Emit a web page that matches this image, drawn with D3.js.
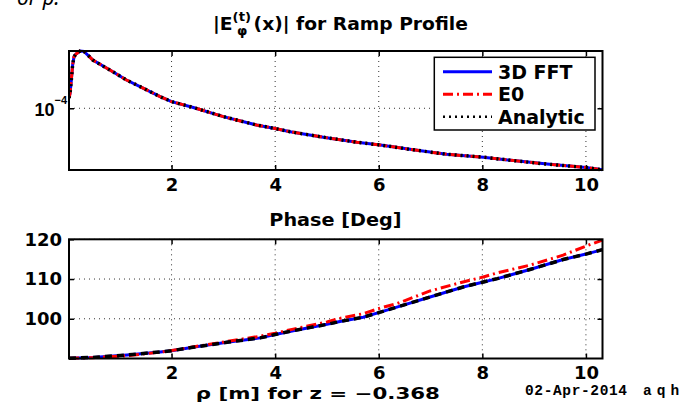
<!DOCTYPE html>
<html lang='en'>
<head>
  <meta charset='UTF-8'>
  <title>Ramp Profile</title>
  <style>
    body { margin: 0; background: #fff; }
    svg { display: block; font-family: 'DejaVu Sans', sans-serif; font-weight: bold; }
  </style>
</head>
<body>
  <script src='https://cdn.jsdelivr.net/npm/d3@7/dist/d3.min.js'></script>
  <script>
// canvas
const width = 681;
const height = 402;

// --- data ---
// top panel: |E_phi| vs rho
const magRho = [0.02, 0.04, 0.06, 0.09, 0.117, 0.155, 0.233, 0.31, 0.48, 0.81, 1.13, 1.46, 1.78, 2.0,
                2.42, 3.0, 3.64, 3.97, 4.29, 4.93, 5.58, 6.03, 6.67, 7.31, 8.02, 8.6, 9.25, 10.0, 10.32];
const magFFT = [1.15e-4, 1.22e-4, 1.409e-4, 1.798e-4, 2.012e-4, 2.086e-4, 2.173e-4, 2.163e-4, 1.923e-4,
                1.68e-4, 1.467e-4, 1.311e-4, 1.17e-4, 1.094e-4, 1.011e-4, 8.93e-5, 7.97e-5, 7.63e-5,
                7.28e-5, 6.75e-5, 6.31e-5, 6.08e-5, 5.69e-5, 5.36e-5, 5.15e-5, 4.92e-5, 4.69e-5, 4.48e-5, 4.34e-5];
const magE0 = magFFT.slice();
const magAnalytic = magFFT.slice();

// bottom panel: phase [deg] vs rho
const phRho = [0.02, 0.48, 1.14, 1.78, 2.0, 2.41, 3.07, 3.71, 4.0, 4.35, 5.0, 5.25, 5.70, 6.03, 6.35,
               6.99, 7.63, 8.02, 8.29, 8.92, 9.56, 10.0, 10.32];
const phFFT = [90.05, 90.28, 90.89, 91.65, 91.97, 92.81, 94.08, 95.19, 96.03, 97.0, 98.6, 99.3, 100.4,
               101.67, 102.94, 105.47, 108.0, 109.27, 110.1, 112.4, 114.9, 116.28, 117.4];
const phE0 = [90.05, 90.2, 90.7, 91.6, 92.0, 92.9, 94.3, 95.6, 96.36, 97.4, 99.2, 100.1, 101.27,
              102.7, 103.8, 107.0, 109.27, 110.53, 111.55, 113.5, 116.0, 118.3, 119.8];
const phAnalytic = phFFT.slice();

const xTicks = [2, 4, 6, 8, 10];
const magTicks = [1e-4];
const phTicks = [100, 110, 120];
const legendNames = ['3D FFT', 'E0', 'Analytic'];

// series styles
const styles = [
  { color: '#0000ff', dash: null, w: 3 },
  { color: '#ff0000', dash: '10,4,2,4', w: 3 },
  { color: '#000000', dash: '2,4', w: 2.5 }
];

const svg = d3.select('body').append('svg')
    .attr('width', width)
    .attr('height', height);

// squeeze/stretch a text horizontally so it spans [x0, x1]
function fitText(parent, x0, x1, y, size, build) {
  const g = parent.append('g');
  const t = g.append('text').attr('x', 0).attr('y', 0).style('font-size', size + 'px');
  build(t);
  const w = t.node().getBBox().width;
  g.attr('transform', 'translate(' + x0 + ',' + y + ') scale(' + ((x1 - x0) / w) + ',1)');
  return t;
}

// cropped caption text at top-left
svg.append('text')
    .attr('x', 17).attr('y', 5)
    .style('font-family', "'Noto Sans', sans-serif")
    .style('font-weight', 'normal')
    .style('font-style', 'italic')
    .style('font-size', '21px')
    .text('or ρ.');

const left = 69, right = 602.5;
const x = d3.scaleLinear().domain([0.02, 10.32]).range([left, right]);

function panel(y0, y1, y, yTicks, series, fmt, blackDash) {
  const g = svg.append('g');

  // grid
  g.selectAll('.vg').data(xTicks).enter().append('line')
      .attr('x1', d => x(d)).attr('x2', d => x(d))
      .attr('y1', y0).attr('y2', y1)
      .attr('stroke', '#333').attr('stroke-width', 1).attr('stroke-dasharray', '1,4');
  g.selectAll('.hg').data(yTicks).enter().append('line')
      .attr('x1', left).attr('x2', right)
      .attr('y1', d => y(d)).attr('y2', d => y(d))
      .attr('stroke', '#333').attr('stroke-width', 1).attr('stroke-dasharray', '1,4');

  // lines
  const clipId = 'clip' + Math.round(y0);
  svg.append('clipPath').attr('id', clipId).append('rect')
      .attr('x', left).attr('y', y0 - 2).attr('width', right - left).attr('height', y1 - y0 + 4);
  series.forEach((s, i) => {
    const line = d3.line().x(d => x(d[0])).y(d => y(d[1]));
    g.append('path')
        .attr('clip-path', 'url(#' + clipId + ')')
        .attr('d', line(s.xs.map((v, k) => [v, s.ys[k]])))
        .attr('fill', 'none')
        .attr('stroke', styles[i].color)
        .attr('stroke-width', i === 2 ? 3.5 : styles[i].w)
        .attr('stroke-dasharray', i === 2 ? blackDash : styles[i].dash);
  });

  // axes
  const ax = [
    g.append('g').attr('transform', 'translate(0,' + y1 + ')')
        .call(d3.axisBottom(x).tickValues(xTicks).tickSizeInner(-5).tickSizeOuter(0).tickPadding(8)),
    g.append('g').attr('transform', 'translate(0,' + y0 + ')')
        .call(d3.axisTop(x).tickValues(xTicks).tickSizeInner(-5).tickSizeOuter(0).tickFormat('')),
    g.append('g').attr('transform', 'translate(' + left + ',0)')
        .call(d3.axisLeft(y).tickValues(yTicks).tickSizeInner(-5).tickSizeOuter(0).tickPadding(7).tickFormat(fmt)),
    g.append('g').attr('transform', 'translate(' + right + ',0)')
        .call(d3.axisRight(y).tickValues(yTicks).tickSizeInner(-5).tickSizeOuter(0).tickFormat(''))
  ];
  ax.forEach(a => {
    a.select('.domain').remove();
    a.selectAll('line').attr('stroke', '#000').attr('stroke-width', 1.5);
    a.selectAll('text').style('font-family', "'DejaVu Sans', sans-serif")
        .style('font-weight', 'bold').style('font-size', '18px').attr('fill', '#000');
  });
  g.append('rect')
      .attr('x', left).attr('y', y0).attr('width', right - left).attr('height', y1 - y0)
      .attr('fill', 'none').attr('stroke', '#000').attr('stroke-width', 2);
  return { g: g, ax: ax };
}

// --- top panel ---
const yMag = d3.scaleLog().domain([4.33e-5, 2.174e-4]).range([170, 51]);
const magPanel = panel(51, 170, yMag, magTicks, [
  { xs: magRho, ys: magFFT },
  { xs: magRho, ys: magE0 },
  { xs: magRho, ys: magAnalytic }
], () => '', '2,4');

// 10^-4 label
magPanel.ax[2].selectAll('.tick').each(function(d) {
  const t = d3.select(this).append('text')
      .attr('x', -2).attr('y', 7).attr('text-anchor', 'end').attr('fill', '#000')
      .style('font-size', '18px');
  t.append('tspan').text('10');
  t.append('tspan').attr('dy', -12).style('font-size', '11px').text('−' + Math.round(-Math.log10(d)));
});

// legend
const lg = magPanel.g.append('g');
lg.append('rect').attr('x', 434.3).attr('y', 57.3).attr('width', 160.7).attr('height', 72.7)
    .attr('fill', '#fff').attr('stroke', '#000').attr('stroke-width', 1.5);
legendNames.forEach((name, i) => {
  const cy = 71.7 + i * 22.5;
  lg.append('line').attr('x1', 443).attr('x2', 492).attr('y1', cy).attr('y2', cy)
      .attr('stroke', styles[i].color).attr('stroke-width', styles[i].w)
      .attr('stroke-dasharray', styles[i].dash);
  lg.append('text').attr('x', 498).attr('y', cy + 7).style('font-size', '19px').text(name);
});

// top title with stacked super/subscript
fitText(svg, 213, 468, 30, 17, t => {
  t.append('tspan').text('|E');
  const sup = t.append('tspan').attr('dy', -9).style('font-size', '12px').text('(t)');
  const supW = sup.node().getComputedTextLength();
  t.append('tspan').attr('dy', 14).attr('dx', -supW + 4).style('font-size', '12px').text('φ');
  t.append('tspan').attr('dy', -5).attr('dx', supW - 11).text('(x)| for Ramp Profile');
});

// --- bottom panel ---
const yPh = d3.scaleLinear().domain([90, 120]).range([358.5, 239.3]);
panel(239.3, 358.5, yPh, phTicks, [
  { xs: phRho, ys: phFFT },
  { xs: phRho, ys: phE0 },
  { xs: phRho, ys: phAnalytic }
], d3.format('d'), '7,5');

fitText(svg, 269.3, 401.7, 226, 17.5, t => t.text('Phase [Deg]'));
fitText(svg, 195.7, 440, 398.5, 15, t => t.text('ρ [m] for z = −0.368'));

// date stamp, cut at the right edge
const stamp = svg.append('text').attr('y', 395)
    .style('font-family', "'Liberation Mono', monospace").style('font-size', '14.5px');
stamp.append('tspan').attr('x', 525).attr('textLength', 102).text('02-Apr-2014');
stamp.append('tspan').attr('x', 643).style('letter-spacing', '5px').text('aqh');
  </script>
</body>
</html>
